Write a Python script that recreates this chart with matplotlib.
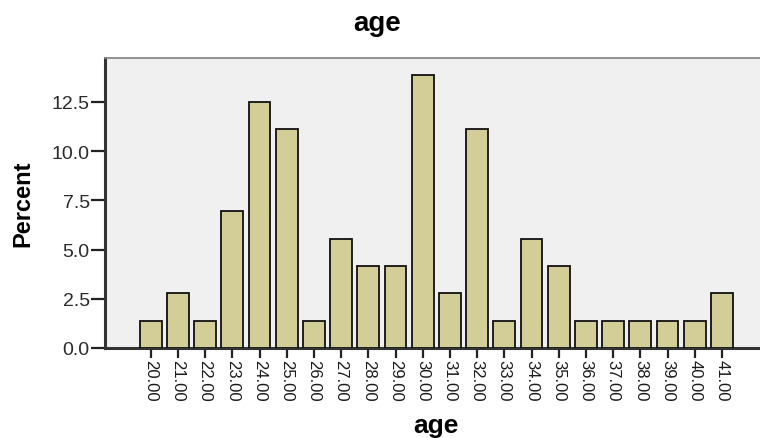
import matplotlib
matplotlib.use("Agg")
import matplotlib.pyplot as plt
import numpy as np

plt.rcParams['font.family'] = ['Liberation Sans', 'DejaVu Sans']

ages = [f"{a:.2f}" for a in range(20, 42)]
percent = [1.39, 2.78, 1.39, 6.94, 12.50, 11.11, 1.39, 5.56, 4.17, 4.17, 13.89,
           2.78, 11.11, 1.39, 5.56, 4.17, 1.39, 1.39, 1.39, 1.39, 1.39, 2.78]
yticks = [0.0, 2.5, 5.0, 7.5, 10.0, 12.5]

W, H = 760, 439
fig = plt.figure(figsize=(W/100, H/100), dpi=100)
ax = fig.add_axes([105/W, (H-349)/H, (W-105)/W, (349-59)/H])
ax.set_facecolor('#F0F0F0')
x = np.arange(len(ages))
ax.bar(x, percent, width=0.8, color='#D3CE97', edgecolor='#111111', linewidth=1.3, zorder=3)
ax.set_xlim(-1.68, 22.4)
ax.set_ylim(0, 14.73)
ax.set_xticks(x)
ax.set_xticklabels(ages, rotation=270, fontsize=12, color='#1a1a1a')
ax.set_yticks(yticks)
ax.set_yticklabels([f"{v:.1f}" for v in yticks], fontsize=14, color='#2a2a2a')
ax.tick_params(axis='x', direction='out', length=7, width=1.6, color='#222222', pad=1)
ax.tick_params(axis='y', direction='out', length=10, width=1.6, color='#222222', pad=1)
for s in ['left', 'bottom']:
    ax.spines[s].set_linewidth(2.2)
    ax.spines[s].set_color('#333333')
ax.spines['top'].set_linewidth(1.3)
ax.spines['top'].set_color('#888888')
ax.spines['right'].set_visible(False)
fig.text(377/W, 1 - 24/H, 'age', ha='center', va='center', fontsize=20, fontweight='bold')
fig.text(436/W, 1 - 426/H, 'age', ha='center', va='center', fontsize=19, fontweight='bold')
fig.text(23/W, 1 - 204/H, 'Percent', ha='center', va='center', rotation=90, fontsize=17, fontweight='bold')
fig.savefig('out.png', dpi=100)
